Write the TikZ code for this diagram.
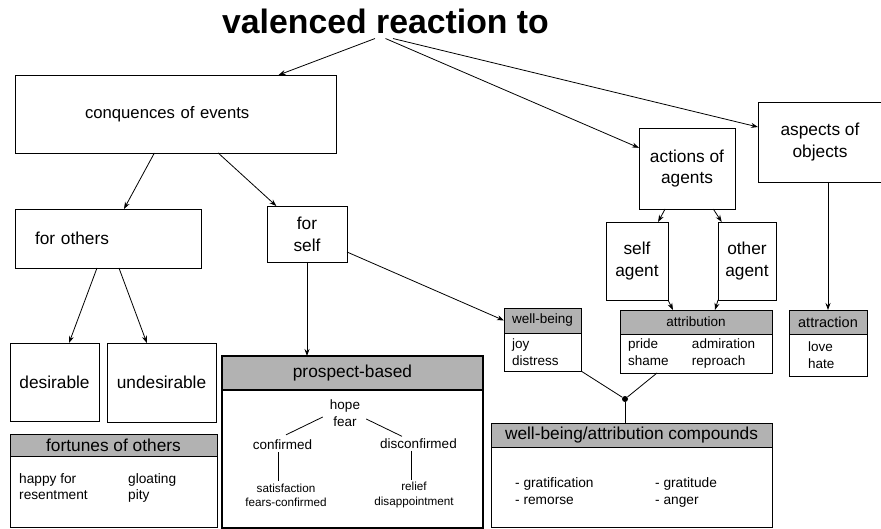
\documentclass[tikz,border=0pt]{standalone}
\usepackage{fontspec}
\setmainfont{Liberation Sans}
\usepackage{tikz}
\usetikzlibrary{positioning}
\usetikzlibrary{arrows.meta,shapes}
\usetikzlibrary{calc}
\setlength{\parindent}{0pt}
\newcommand{\titlesz}{\fontsize{33.8pt}{40pt}\selectfont\bfseries}
\newcommand{\mainsz}{\fontsize{17.3pt}{21.7pt}\selectfont}
\newcommand{\conqsz}{\fontsize{16.7pt}{20pt}\selectfont}
\newcommand{\subsz}{\fontsize{13.5pt}{17.5pt}\selectfont}
\newcommand{\bodysz}{\fontsize{13.7pt}{16.5pt}\selectfont}
\newcommand{\smallsz}{\fontsize{11.7pt}{14.3pt}\selectfont}
\tikzstyle{box}=[draw,line width=0.9pt,fill=white,outer sep=0pt,inner sep=3pt,align=center,font=\mainsz]
\tikzstyle{hdr}=[draw,line width=0.9pt,fill=black!30,outer sep=0pt,inner sep=2pt,font=\subsz]
\tikzstyle{body}=[draw,line width=0.9pt,fill=white,outer sep=0pt,inner ysep=0pt,align=left,font=\subsz]
\tikzstyle{txt}=[inner sep=2pt,align=center,font=\subsz]
\tikzstyle{edge} = [draw,line width=0.8pt,-{Stealth[length=7pt,width=5pt]}]
\tikzstyle{link} = [draw,line width=0.8pt]
\tikzstyle{junction}=[circle,fill=black,minimum size=6pt,inner sep=0pt]

\begin{document}
\begin{tikzpicture}[x=1pt,y=-1pt]
    \useasboundingbox (0,0) rectangle (881,529);

    \node[anchor=base,inner sep=4pt,font=\titlesz] (title) at (385.5,34) {valenced reaction to};

    % plain boxes
    \node[box,text width=181pt,inner xsep=70pt,minimum height=78pt,align=left,font=\conqsz] (conq) at (175.5,114) {conquences of events};
    \node[box,text width=146pt,inner xsep=20pt,minimum height=59pt,align=left] (forothers) at (108,238.5) {for others};
    \foreach \pos/\name/\w/\h/\label in {{(307,234)/forself/80/56/{for\\self}}, {(54.5,382)/desirable/89/78/desirable}, {(161.5,382.5)/undesirable/109/79/undesirable},
        {(687,168.5)/actions/96/81/{actions of\\agents}}, {(820,142)/aspects/124/80/{aspects of\\objects}}, {(637,261)/selfagent/62/78/{self\\agent}}, {(747,261)/otheragent/58/78/{other\\agent}}}
        \node[box,minimum width=\w pt,minimum height=\h pt] (\name) at \pos {\label};

    % panels with a grey header
    \node[hdr,minimum width=207pt,minimum height=22pt,font=\mainsz] (foh) at (113.5,445) {fortunes of others};
    \node[body,minimum width=207pt,minimum height=71.5pt,below=0pt of foh] (fob) {};
    \node[anchor=west,inner sep=0pt,font=\bodysz] (fotxt) at (19,488) {\begin{tabular}{@{}p{109pt}@{}l@{}}happy for & gloating\\resentment & pity\end{tabular}};

    \node[hdr,line width=2pt,minimum width=261pt,minimum height=34pt,font=\mainsz] (prh) at (352.5,373) {prospect-based};
    \node[body,line width=2pt,minimum width=261pt,minimum height=137.5pt,below=0pt of prh] (prb) {};
    \node[txt] (hope) at (345,413) {hope\\fear};
    \node[txt] (confirmed) at (282.5,445) {confirmed};
    \node[txt] (disconfirmed) at (418.5,443.5) {disconfirmed};
    \node[txt,font=\smallsz] (sat) at (286,495) {satisfaction\\fears-confirmed};
    \node[txt,font=\smallsz] (relief) at (414,495) {relief\\disappointment};

    \node[hdr,minimum width=77pt,minimum height=25pt] (wbh) at (542.5,320.5) {well-being};
    \node[body,text width=61pt,inner xsep=8pt,minimum height=38pt,below=0pt of wbh] (wbb) {joy\\distress};
    \node[hdr,minimum width=152pt,minimum height=24pt] (attrh) at (696,322) {attribution};
    \node[body,text width=136pt,inner xsep=8pt,minimum height=39pt,below=0pt of attrh] (attrb) {\begin{tabular}{@{}p{64pt}@{}l@{}}pride & admiration\\shame & reproach\end{tabular}};
    \node[hdr,minimum width=78pt,minimum height=24pt,font={\fontsize{14.5pt}{17pt}\selectfont}] (attrah) at (828,322) {attraction};
    \node[body,text width=40pt,inner xsep=19pt,minimum height=42pt,below=0pt of attrah] (attrab) {love\\hate};

    \node[hdr,minimum width=281pt,minimum height=24pt,font=\mainsz] (cmph) at (631.5,435) {well-being/attribution compounds};
    \node[body,minimum width=281pt,minimum height=80.5pt,below=0pt of cmph] (cmpb) {};
    \node[anchor=west,inner sep=0pt,font=\bodysz] (cmptxt) at (515,492.5) {\begin{tabular}{@{}p{140pt}@{}l@{}}- gratification & - gratitude\\- remorse & - anger\end{tabular}};

    \node[junction] (junc) at (625,399) {};

    % arrows
    \foreach \shift/\dest in {{-10.5/conq}, {0/actions}, {7.5/aspects}}
        \path[edge] ([xshift=\shift pt]title.south) -- (\dest);
    \foreach \source/\dest in {conq/forothers, conq/forself, forothers/desirable, forothers/undesirable, actions/selfagent, actions/otheragent}
        \path[edge] (\source) -- (\dest);
    \path[edge] (forself) -- (forself |- prh.north);
    \path[edge] ([yshift=-18pt]forself.east) -- (wbh.west);
    \path[edge] (selfagent.south east) -- ([xshift=-23pt]attrh.north);
    \path[edge] (otheragent.south west) -- ([xshift=19pt]attrh.north);
    \path[edge] (attrah.north |- aspects.south) -- (attrah.north);

    % prospect tree
    \coordinate (cf) at ([xshift=-4.5pt]confirmed.south);
    \coordinate (dcf) at ([xshift=-7.5pt]disconfirmed.south);
    \path[link] ([xshift=-5pt,yshift=-4pt]hope.west) -- ([xshift=3.5pt,yshift=3pt]confirmed.north);
    \path[link] ([xshift=4pt,yshift=-6pt]hope.east) -- ([xshift=-16.5pt]disconfirmed.north);
    \path[link] (cf) -- (cf |- sat.north);
    \path[link] (dcf) -- (dcf |- relief.north);

    % compounds
    \path[link] (wbb.south east) -- (junc);
    \path[link] ([xshift=-39pt]attrb.south) -- (junc);
    \path[link] (junc) -- (junc |- cmph.north);
\end{tikzpicture}
\end{document}
